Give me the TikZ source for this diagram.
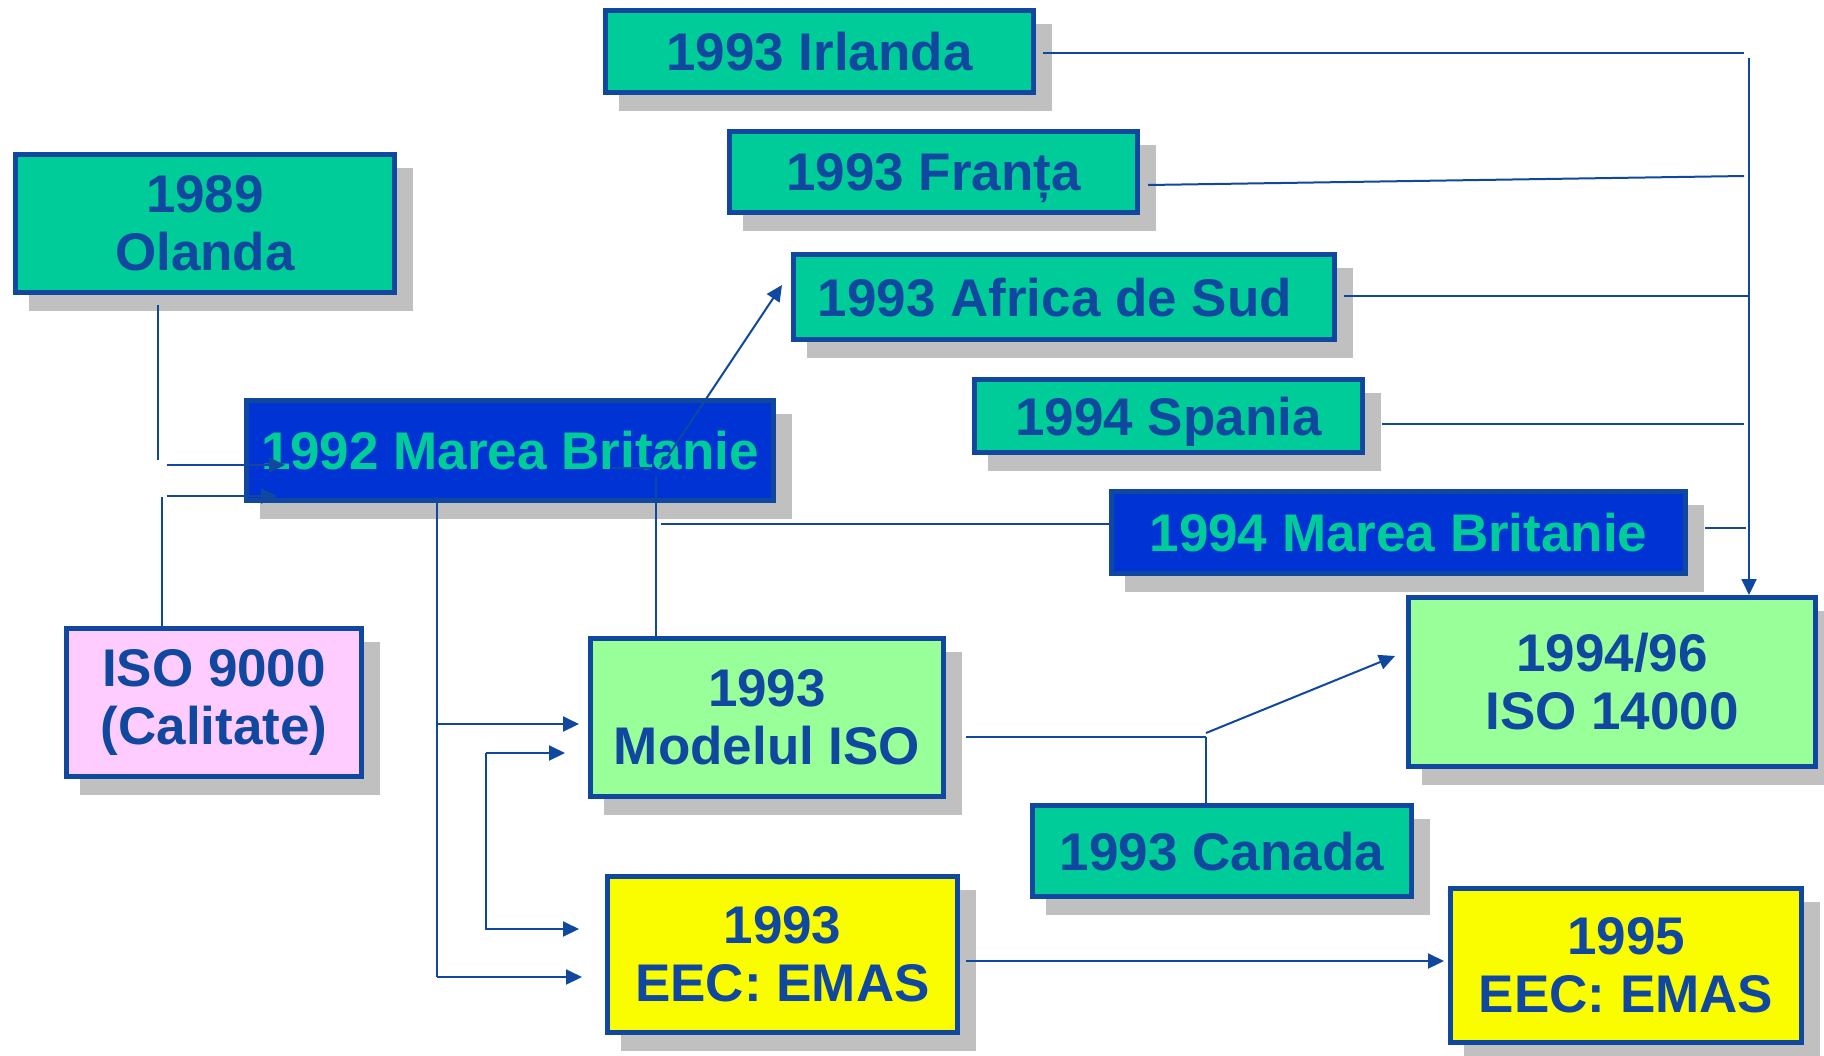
\documentclass[tikz,border=0pt]{standalone}
\usepackage{fontspec}
\setmainfont{Liberation Sans}
\usetikzlibrary{arrows.meta,shadows}

\definecolor{boxBorder}{RGB}{16,72,160}
\definecolor{boxTeal}{RGB}{0,204,153}
\definecolor{boxBlue}{RGB}{0,51,212}
\definecolor{boxGreen}{RGB}{153,255,153}
\definecolor{boxYellow}{RGB}{250,252,0}
\definecolor{boxPink}{RGB}{255,204,255}
\definecolor{shadowGray}{RGB}{192,192,192}

\tikzset{
  box/.style={draw=boxBorder, line width=2.5pt, inner sep=0pt, align=center,
    text=boxBorder, font=\fontsize{26.5}{29}\selectfont\bfseries,
    drop shadow={shadow xshift=8pt, shadow yshift=-8pt, fill=shadowGray,
      draw=shadowGray, opacity=1}},
  oneline/.style={box, text depth=0pt},
  link/.style={draw=boxBorder, line width=1pt},
  arr/.style={link, -{Triangle[length=8pt,width=7.5pt]}},
}

\begin{document}
\begin{tikzpicture}[x=0.5pt,y=-0.5pt]
\fill[white] (0,0) rectangle (1824,1055);
\useasboundingbox (0,0) rectangle (1824,1055);
% boxes
\node[box, fill=boxTeal, minimum width=189.5pt, minimum height=69pt] (olanda) at (205,223.5) {1989\\Olanda};
\node[oneline, fill=boxTeal, minimum width=214pt, minimum height=41pt] (irlanda) at (819.5,51.5) {1993 Irlanda};
\node[oneline, fill=boxTeal, minimum width=204pt, minimum height=40.5pt] (franta) at (933.5,172) {1993 Franța};
\node[oneline, fill=boxTeal, minimum width=270.5pt, minimum height=42.5pt] (africa) at (1064,297) {1993 Africa de Sud\hspace*{9pt}};
\node[oneline, fill=boxTeal, minimum width=194pt, minimum height=36.5pt] (spania) at (1168.5,416) {1994 Spania};
\node[oneline, fill=boxBlue, text=boxTeal, minimum width=263.5pt, minimum height=50pt] (mb92) at (510,450.5) {1992 Marea Britanie};
\node[oneline, fill=boxBlue, text=boxTeal, minimum width=287pt, minimum height=41pt] (mb94) at (1398.5,532.5) {1994 Marea Britanie};
\node[box, fill=boxPink, minimum width=147.5pt, minimum height=74pt] (iso9000) at (214,702.5) {ISO 9000\\(Calitate)};
\node[box, fill=boxGreen, minimum width=176.5pt, minimum height=79pt] (modelul) at (767,717.5) {1993\\Modelul ISO};
\node[box, fill=boxGreen, minimum width=203.5pt, minimum height=84.5pt] (iso14000) at (1612,682) {1994/96\\ISO 14000};
\node[oneline, fill=boxTeal, minimum width=189.5pt, minimum height=45.5pt] (canada) at (1222,851) {1993 Canada};
\node[box, fill=boxYellow, minimum width=175pt, minimum height=78pt] (emas93) at (782.5,954.5) {1993\\EEC: EMAS};
\node[box, fill=boxYellow, minimum width=175.5pt, minimum height=77pt] (emas95) at (1626,965.5) {1995\\EEC: EMAS};
% left feeds into 1992
\draw[link] (158,305) -- (158,460);
\draw[arr] (167,465) -- (285,465);
\draw[arr] (167,496) -- (277,496);
\draw[link] (162,497) -- (162,497 |- iso9000.north);
% 1992 down to Modelul ISO and EMAS
\coordinate (mbTop) at (437,497);
\coordinate (mbBot) at (437,977);
\draw[link] (mbTop) -- (mbBot);
\draw[arr] (437,724) -- (579,724);
\draw[arr] (mbBot) -- (582,977);
\draw[arr] (486,753) -- (565,753);
\draw[arr] (486,753) -- (486,929) -- (579,929);
% Modelul ISO up to Africa de Sud
\draw[link] (656,636 |- modelul.north) -- (656,476);
\draw[link] (612,468) -- (652,468);
\draw[arr] (660,468) -- (782,285);
\draw[link] (661,524) -- (661,524 -| mb94.west);
% collector on the right
\coordinate (colTop) at (1749,58);
\draw[link] (1043,53) -- (1744,53);
\draw[link] (1148,185) -- (1744,176);
\draw[link] (1344,296) -- (1749,296);
\draw[link] (1382,424) -- (1744,424);
\draw[link] (1705,528) -- (1746,528);
\draw[arr] (colTop) -- (colTop |- iso14000.north);
% Modelul ISO and Canada to ISO 14000
\coordinate (cj) at (1206,737);
\draw[link] (966,737) -- (cj);
\draw[link] (cj) -- (cj |- canada.north);
\draw[arr] (1206,733) -- (1395,656);
% EMAS 1993 to 1995
\draw[arr] (966,961) -- (1444,961);
\end{tikzpicture}
\end{document}
